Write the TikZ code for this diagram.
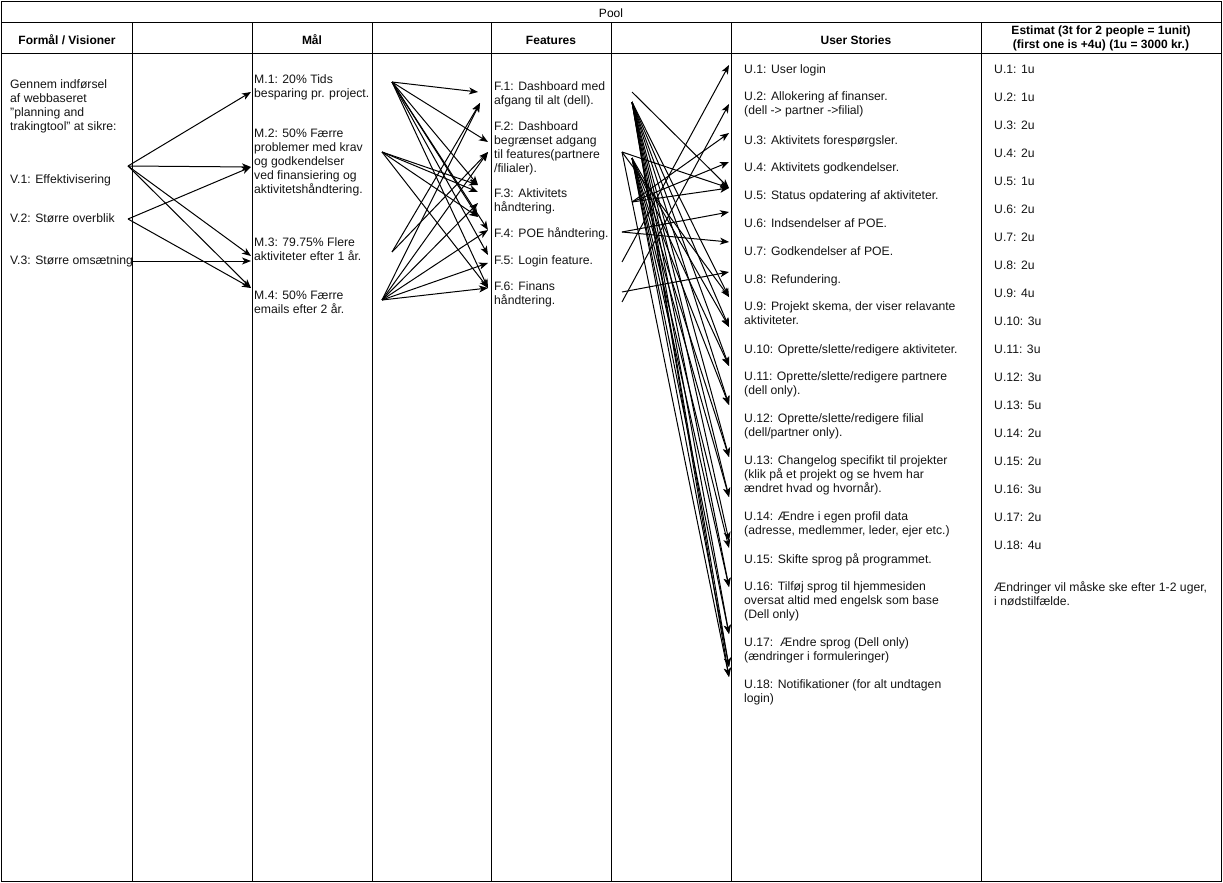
\documentclass[tikz,border=0pt]{standalone}
\usepackage{fontspec}
\setmainfont{Liberation Sans}
\usetikzlibrary{arrows.meta}
\begin{document}
\begin{tikzpicture}[x=1pt,y=-1pt,
  grid/.style={line width=1pt, black},
  txt/.style={anchor=north west, inner sep=0pt, align=left, font=\fontsize{12.2}{14}\selectfont, text=black!92, execute at begin node=\rule{0pt}{10pt}},
  hdr/.style={anchor=base, inner sep=0pt, font=\bfseries\fontsize{12}{14}\selectfont, text=black},
  arr/.style={-{Stealth[length=9pt,width=7pt,inset=2.5pt]}, line width=1pt, black}]
\useasboundingbox (0,0) rectangle (1223,883);
% frame
\draw[grid] (1.5,1.5) rectangle (1221.5,881.5);
\draw[grid] (1.5,22.5) -- (1221.5,22.5);
\draw[grid] (1.5,53.5) -- (1221.5,53.5);
\foreach \x in {132.5,252.5,372.5,491.5,611.5,731.5,981.5} \draw[grid] (\x,22.5) -- (\x,881.5);
% headers
\node[anchor=base, inner sep=0pt, font=\fontsize{12}{14}\selectfont] (pool) at (611,17.5) {Pool};
\node[hdr] (h1) at (67,44.5) {Formål / Visioner};
\node[hdr] (h2) at (312,44.5) {Mål};
\node[hdr] (h3) at (551,44.5) {Features};
\node[hdr] (h4) at (856,44.5) {User Stories};
\node[hdr, anchor=north, align=center, execute at begin node=\rule{0pt}{10pt}] (h5) at (1101,25.3) {Estimat (3t for 2 people = 1unit)\\(first one is +4u) (1u = 3000 kr.)};
% column 1
\node[txt] (intro) at (10,79.3) {Gennem indførsel\\af webbaseret\\"planning and\\trakingtool" at sikre:};
\node[txt] (V1) at (10,173.3) {V.1: Effektivisering};
\node[txt] (V2) at (10,212.3) {V.2: Større overblik};
\node[txt] (V3) at (10,253.8) {V.3: Større omsætning};
% column 2
\node[txt] (M1) at (254,74.8) {M.1: 20\% Tids\\besparing pr. project.};
\node[txt] (M2) at (254,128.3) {M.2: 50\% Færre\\problemer med krav\\og godkendelser\\ved finansiering og\\aktivitetshåndtering.};
\node[txt] (M3) at (254,237.3) {M.3: 79.75\% Flere\\aktiviteter efter 1 år.};
\node[txt] (M4) at (254,290.8) {M.4: 50\% Færre\\emails efter 2 år.};
% column 4
\node[txt] (F1) at (494,81.3) {F.1: Dashboard med\\afgang til alt (dell).};
\node[txt] (F2) at (494,121.3) {F.2: Dashboard\\begrænset adgang\\til features(partnere\\/filialer).};
\node[txt] (F3) at (494,188.3) {F.3: Aktivitets\\håndtering.};
\node[txt] (F4) at (494,227.3) {F.4: POE håndtering.};
\node[txt] (F5) at (494,254.3) {F.5: Login feature.};
\node[txt] (F6) at (494,281.3) {F.6: Finans\\håndtering.};
% column 6
\node[txt] (U1) at (744,63.3) {U.1: User login};
\node[txt] (U2) at (744,91.3) {U.2: Allokering af finanser.\\(dell -> partner ->filial)};
\node[txt] (U3) at (744,133.8) {U.3: Aktivitets forespørgsler.};
\node[txt] (U4) at (744,161.3) {U.4: Aktivitets godkendelser.};
\node[txt] (U5) at (744,189.3) {U.5: Status opdatering af aktiviteter.};
\node[txt] (U6) at (744,217.3) {U.6: Indsendelser af POE.};
\node[txt] (U7) at (744,245.3) {U.7: Godkendelser af POE.};
\node[txt] (U8) at (744,273.3) {U.8: Refundering.};
\node[txt] (U9) at (744,301.3) {U.9: Projekt skema, der viser relavante\\aktiviteter.};
\node[txt] (U10) at (744,343.3) {U.10: Oprette/slette/redigere aktiviteter.};
\node[txt] (U11) at (744,371.3) {U.11: Oprette/slette/redigere partnere\\(dell only).};
\node[txt] (U12) at (744,413.3) {U.12: Oprette/slette/redigere filial\\(dell/partner only).};
\node[txt] (U13) at (744,455.3) {U.13: Changelog specifikt til projekter\\(klik på et projekt og se hvem har\\ændret hvad og hvornår).};
\node[txt] (U14) at (744,511.3) {U.14: Ændre i egen profil data\\(adresse, medlemmer, leder, ejer etc.)};
\node[txt] (U15) at (744,553.3) {U.15: Skifte sprog på programmet.};
\node[txt] (U16) at (744,581.3) {U.16: Tilføj sprog til hjemmesiden\\oversat altid med engelsk som base\\(Dell only)};
\node[txt] (U17) at (744,637.3) {U.17:\ \ Ændre sprog (Dell only)\\(ændringer i formuleringer)};
\node[txt] (U18) at (744,679.3) {U.18: Notifikationer (for alt undtagen\\login)};
% column 7
\foreach \k/\v in {1/1,2/1,3/2,4/2,5/1,6/2,7/2,8/2,9/4,10/3,11/3,12/3,13/5,14/2,15/2,16/3,17/2,18/4}
  \node[txt] (E\k) at (994,{63.3+28*(\k-1)}) {U.\k: \v u};
\node[txt] (note) at (994,581.3) {Ændringer vil måske ske efter 1-2 uger,\\i nødstilfælde.};
% ---- V -> M connectors
\coordinate (v1) at (128,166);
\coordinate (v2) at (128,219);
\coordinate (v3) at (133,261);
\coordinate (m1) at (251,92);
\coordinate (m2) at (251,167);
\coordinate (m3a) at (251,256);
\coordinate (m3b) at (251,261);
\coordinate (m4) at (251,288);
\foreach \s/\t in {v1/m1,v1/m2,v1/m3a,v1/m4,v2/m2,v2/m4,v3/m3b}
  \draw[arr] (\s) -- (\t);
% ---- M -> F connectors
\coordinate (ma) at (392,82);
\coordinate (mb) at (382,152);
\coordinate (mc) at (392,252);
\coordinate (md) at (382,300);
\coordinate (f1a) at (478,92);
\coordinate (f1b) at (480,103);
\coordinate (f2a) at (488,142);
\coordinate (f2b) at (488,152);
\coordinate (f3a) at (478,185);
\coordinate (f3b) at (478,192);
\coordinate (f3c) at (478,203);
\coordinate (f3d) at (478,217);
\coordinate (f4) at (488,230);
\coordinate (f5a) at (488,255);
\coordinate (f5b) at (488,263);
\coordinate (f6) at (488,288);
\foreach \s/\t in {ma/f1a,ma/f2a,ma/f3a,ma/f3d,ma/f4,ma/f5a,ma/f6,
                   mb/f3a,mb/f3b,mb/f3d,mb/f6,
                   mc/f1b,mc/f2b,
                   md/f1b,md/f2b,md/f3c,md/f4,md/f5b,md/f6}
  \draw[arr] (\s) -- (\t);
% ---- F -> U connectors
\coordinate (s1) at (632,92);
\coordinate (s2) at (632,102);
\coordinate (s3) at (622,152);
\coordinate (s4) at (632,158);
\coordinate (s5) at (632,202);
\coordinate (s6) at (622,232);
\coordinate (s7) at (622,262);
\coordinate (s8) at (622,292);
\coordinate (s9) at (622,302);
\coordinate (u1) at (729,65);
\coordinate (u2) at (729,104);
\coordinate (u3) at (729,133);
\coordinate (u4) at (729,162);
\coordinate (u5) at (729,188);
\coordinate (u6) at (729,212);
\coordinate (u7) at (729,242);
\coordinate (u8) at (729,272);
\coordinate (u9a) at (729,297);
\coordinate (u9b) at (729,327);
\coordinate (u10) at (729,366);
\coordinate (u11) at (729,405);
\coordinate (u12) at (729,457);
\coordinate (u13) at (729,497);
\coordinate (u14a) at (729,541);
\coordinate (u14b) at (729,548);
\coordinate (u15) at (729,587);
\coordinate (u16) at (729,634);
\coordinate (u17) at (729,667);
\coordinate (u18) at (729,677);
\foreach \s/\t in {s7/u1,s9/u2,s5/u3,s5/u4,s5/u5,s6/u6,s6/u7,s8/u8,
                   s1/u5,s3/u5,s3/u9a,s3/u18,
                   s2/u9a,s2/u9b,s2/u10,s2/u11,s2/u12,s2/u13,s2/u14a,s2/u15,s2/u16,s2/u17,s2/u18,
                   s4/u9b,s4/u10,s4/u11,s4/u12,s4/u13,s4/u14b,s4/u15,s4/u16,s4/u17}
  \draw[arr] (\s) -- (\t);
\end{tikzpicture}
\end{document}
